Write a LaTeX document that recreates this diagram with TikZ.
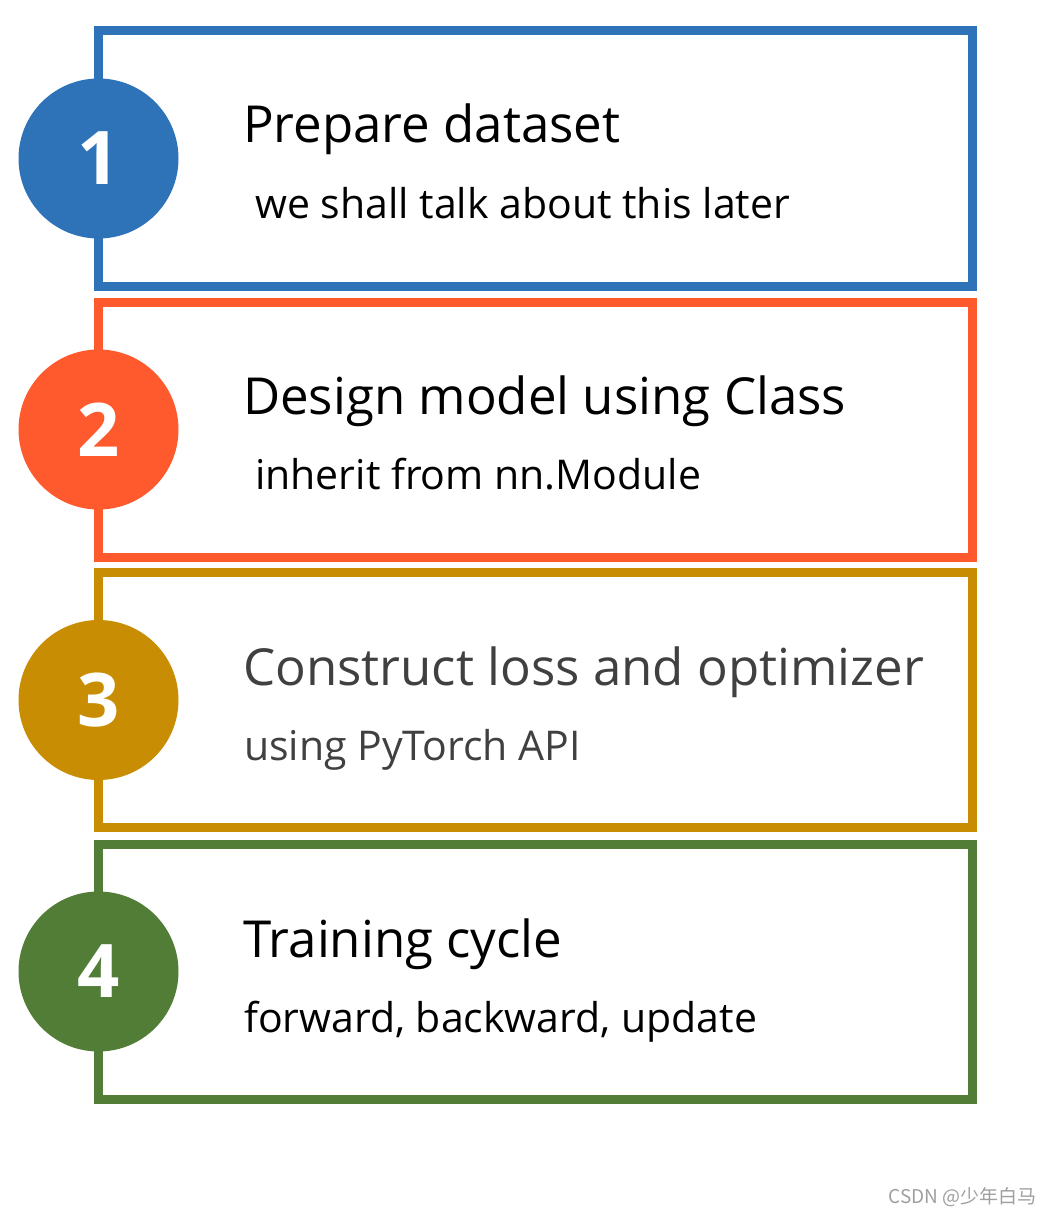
\documentclass[tikz,border=0pt]{standalone}
\usepackage{fontspec}
\setmainfont{Open Sans}
\newfontfamily\cjkfont{Noto Sans CJK SC}
\usetikzlibrary{positioning}

\definecolor{stepblue}{HTML}{2E72B8}
\definecolor{steporange}{HTML}{FF5A2E}
\definecolor{stepgold}{HTML}{C88D03}
\definecolor{stepgreen}{HTML}{527D37}
\definecolor{subgray}{HTML}{404040}

\tikzset{
  stepframe/.style={draw=#1, line width=9pt, rectangle, inner sep=0pt, outer sep=0pt,
    minimum width=873.5pt, minimum height=255pt},
  stepdot/.style={circle, fill=#1, inner sep=0pt, outer sep=0pt, minimum size=160pt,
    text=white, font=\fontsize{74}{80}\selectfont\bfseries},
  headline/.style={anchor=base west, inner sep=0pt, font=\fontsize{51}{60}\selectfont},
  subline/.style={anchor=base west, inner sep=0pt, font=\fontsize{41}{50}\selectfont},
}

\begin{document}
\begin{tikzpicture}[x=1pt,y=-1pt]
\useasboundingbox (0,0) rectangle (1051,1217);
\fill[white] (0,0) rectangle (1051,1217);

% the four frames
\node (f1) [stepframe=stepblue]   at (535.25,158.5) {};
\node (f2) [stepframe=steporange] at (535.25,429.5) {};
\node (f3) [stepframe=stepgold]   at (535.25,700) {};
\node (f4) [stepframe=stepgreen]  at (535.25,971.5) {};

% numbered discs on the left edge
\node (d1) [stepdot=stepblue]   at (f1.west) {1};
\node (d2) [stepdot=steporange] at (f2.west) {2};
\node (d3) [stepdot=stepgold]   at (f3.west) {3};
\node (d4) [stepdot=stepgreen]  at (f4.west) {4};

% texts
\node (t1) [headline] at (243,143) {Prepare dataset};
\node (s1) [subline]  at (255,218) {we shall talk about this later};
\node (t2) [headline] at (243,414) {Design model using Class};
\node (s2) [subline]  at (255,489) {inherit from nn.Module};
\node (t3) [headline,text=subgray] at (243,685) {Construct loss and optimizer};
\node (s3) [subline,text=subgray]  at (244,760) {using PyTorch API};
\node (t4) [headline] at (243,957) {Training cycle};
\node (s4) [subline]  at (244,1032) {forward, backward, update};

\node (wm) [anchor=east, inner sep=0pt, text=gray!75, font=\fontsize{19}{21}\selectfont\cjkfont]
  at (1037,1197) {CSDN @少年白马};
\end{tikzpicture}
\end{document}
